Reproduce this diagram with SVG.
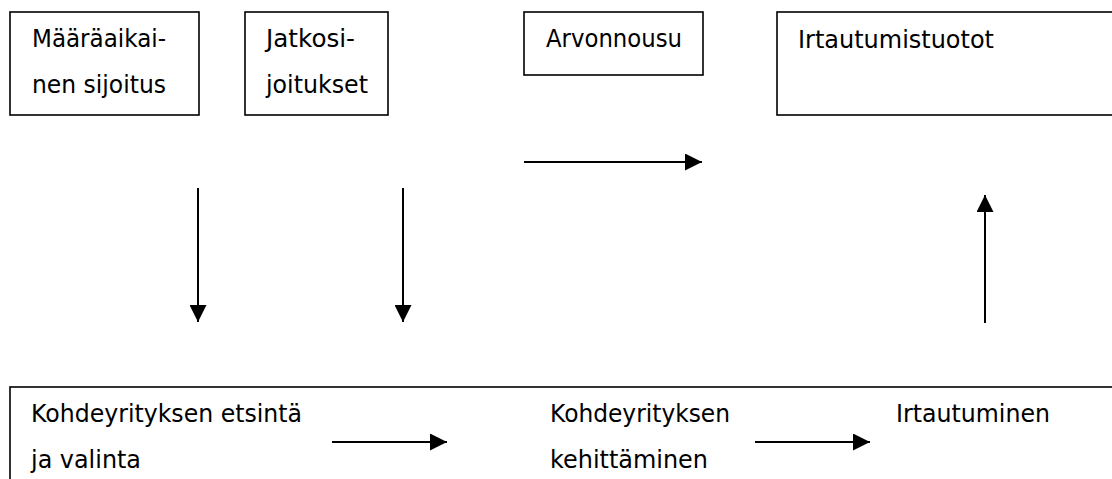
<svg xmlns="http://www.w3.org/2000/svg" width="1112" height="479" viewBox="0 0 1112 479">
  <style>
    .box { fill: #ffffff; stroke: #000000; stroke-width: 1.6; }
    .lbl { font-family: "DejaVu Sans", "Liberation Sans", sans-serif; font-size: 25px; fill: #000000; }
    .conn { stroke: #000000; stroke-width: 2; fill: none; marker-end: url(#head); }
  </style>
  <defs>
    <marker id="head" markerUnits="userSpaceOnUse" markerWidth="17" markerHeight="17" refX="17" refY="8.5" orient="auto">
      <path d="M0,0 L17,8.5 L0,17 Z" fill="#000000"/>
    </marker>
  </defs>
  <rect width="1112" height="479" fill="#ffffff"/>

  <!-- upper row of boxes -->
  <g id="maaraaikainen">
    <rect class="box" x="10" y="12" width="189" height="103"/>
    <text class="lbl" x="32" y="47" textLength="134" lengthAdjust="spacingAndGlyphs">Määräaikai-</text>
    <text class="lbl" x="32" y="93" textLength="134" lengthAdjust="spacingAndGlyphs">nen sijoitus</text>
  </g>
  <g id="jatkosijoitukset">
    <rect class="box" x="245" y="12" width="143" height="103"/>
    <text class="lbl" x="266" y="47" textLength="89" lengthAdjust="spacingAndGlyphs">Jatkosi-</text>
    <text class="lbl" x="266" y="93" textLength="102" lengthAdjust="spacingAndGlyphs">joitukset</text>
  </g>
  <g id="arvonnousu">
    <rect class="box" x="524" y="12" width="179" height="63"/>
    <text class="lbl" x="546" y="47" textLength="136" lengthAdjust="spacingAndGlyphs">Arvonnousu</text>
  </g>
  <g id="irtautumistuotot">
    <rect class="box" x="777" y="12" width="400" height="103"/>
    <text class="lbl" x="798" y="48" textLength="196" lengthAdjust="spacingAndGlyphs">Irtautumistuotot</text>
  </g>

  <!-- lower process band -->
  <g id="prosessi">
    <rect class="box" x="10" y="387" width="1120" height="120"/>
    <text class="lbl" x="31" y="422" textLength="271" lengthAdjust="spacingAndGlyphs">Kohdeyrityksen etsintä</text>
    <text class="lbl" x="31" y="468" textLength="110" lengthAdjust="spacingAndGlyphs">ja valinta</text>
    <text class="lbl" x="550" y="422" textLength="180" lengthAdjust="spacingAndGlyphs">Kohdeyrityksen</text>
    <text class="lbl" x="550" y="468" textLength="158" lengthAdjust="spacingAndGlyphs">kehittäminen</text>
    <text class="lbl" x="896" y="422" textLength="154" lengthAdjust="spacingAndGlyphs">Irtautuminen</text>
  </g>

  <!-- connectors -->
  <g id="connectors">
    <line class="conn" x1="198" y1="188" x2="198" y2="322"/>
    <line class="conn" x1="403" y1="188" x2="403" y2="322"/>
    <line class="conn" x1="524" y1="162" x2="702" y2="162"/>
    <line class="conn" x1="985" y1="323" x2="985" y2="195"/>
    <line class="conn" x1="332" y1="442" x2="447" y2="442"/>
    <line class="conn" x1="755" y1="442" x2="870" y2="442"/>
  </g>
</svg>
